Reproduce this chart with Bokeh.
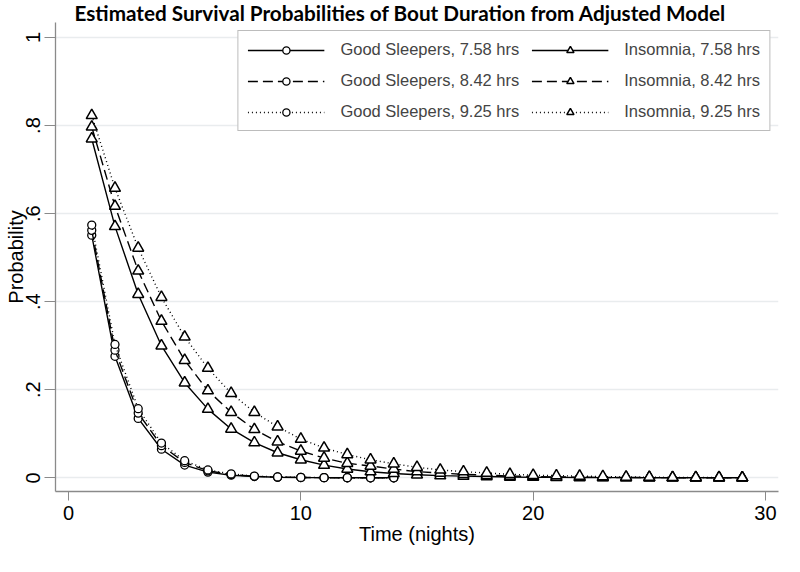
from bokeh.plotting import figure
from bokeh.models import (Range1d, FixedTicker, CustomJSTickFormatter, Legend, LegendItem, Title)
from bokeh.embed import file_html
from bokeh.resources import INLINE

# ---- data ----
time_gs = list(range(1, 15))
time_in = list(range(1, 30))

gs_758 = [0.551, 0.276, 0.135, 0.065, 0.029, 0.013, 0.006, 0.003, 0.0015, 0.0007, 0.0004, 0.0002, 0.0001, 0.0001]
gs_842 = [0.562, 0.290, 0.147, 0.073, 0.035, 0.016, 0.0075, 0.0035, 0.0017, 0.0008, 0.0004, 0.0002, 0.0001, 0.0001]
gs_925 = [0.574, 0.303, 0.157, 0.079, 0.039, 0.018, 0.009, 0.004, 0.002, 0.001, 0.0005, 0.0003, 0.0001, 0.0001]

in_758 = [0.770, 0.571, 0.417, 0.300, 0.216, 0.156, 0.111, 0.080, 0.057, 0.041, 0.029, 0.020, 0.014, 0.010,
          0.007, 0.005, 0.004, 0.003, 0.002, 0.0015, 0.001, 0.0008, 0.0006, 0.0004, 0.0003, 0.0002, 0.0002,
          0.0001, 0.0001]
in_842 = [0.797, 0.617, 0.470, 0.356, 0.267, 0.198, 0.149, 0.110, 0.082, 0.061, 0.045, 0.033, 0.027, 0.020,
          0.014, 0.011, 0.008, 0.006, 0.004, 0.003, 0.002, 0.0015, 0.001, 0.0008, 0.0006, 0.0004, 0.0003,
          0.0002, 0.0002]
in_925 = [0.823, 0.658, 0.522, 0.410, 0.320, 0.249, 0.192, 0.149, 0.116, 0.088, 0.068, 0.053, 0.041, 0.032,
          0.024, 0.018, 0.014, 0.011, 0.008, 0.006, 0.005, 0.004, 0.003, 0.002, 0.0015, 0.001, 0.0008,
          0.0006, 0.0005]

x_ticks = [0, 10, 20, 30]
y_ticks = [0, 0.2, 0.4, 0.6, 0.8, 1]

title_text = "Estimated Survival Probabilities of Bout Duration from Adjusted Model"
x_label = "Time (nights)"
y_label = "Probability"

series = [
    ("Good Sleepers, 7.58 hrs", time_gs, gs_758, "solid", "circle"),
    ("Good Sleepers, 8.42 hrs", time_gs, gs_842, "10 5", "circle"),
    ("Good Sleepers, 9.25 hrs", time_gs, gs_925, "1 3", "circle"),
    ("Insomnia, 7.58 hrs", time_in, in_758, "solid", "triangle"),
    ("Insomnia, 8.42 hrs", time_in, in_842, "10 5", "triangle"),
    ("Insomnia, 9.25 hrs", time_in, in_925, "1 3", "triangle"),
]

FONT = "Liberation Sans"

p = figure(width=792, height=564, output_backend="svg", toolbar_location=None,
           x_range=Range1d(-0.56, 30.56), y_range=Range1d(-0.031, 1.034),
           min_border_left=55, min_border_right=14, min_border_top=22, min_border_bottom=73)
p.outline_line_color = None
p.background_fill_color = "white"
p.border_fill_color = "white"

p.title = Title(text=title_text, text_font="Lato", text_font_style="bold", text_font_size="20.7px",
                align="left", offset=19, standoff=-5, text_color="black")

# axes
p.xaxis.ticker = FixedTicker(ticks=x_ticks)
p.yaxis.ticker = FixedTicker(ticks=y_ticks)
p.yaxis.formatter = CustomJSTickFormatter(code="""
if (tick == 0) return "0";
if (tick == 1) return "1";
return tick.toFixed(1).replace(/^0/, "");
""")
for ax in (p.xaxis[0], p.yaxis[0]):
    ax.axis_line_color = "#8a8a8a"
    ax.axis_line_width = 1.3
    ax.major_tick_line_color = "#8a8a8a"
    ax.major_tick_line_width = 1
    ax.minor_tick_line_color = None
    ax.major_tick_in = 0
    ax.major_label_text_font = FONT
    ax.major_label_text_font_size = "20px"
    ax.major_label_text_color = "black"
    ax.axis_label_text_font = FONT
    ax.axis_label_text_font_size = "20px"
    ax.axis_label_text_font_style = "normal"
    ax.axis_label_text_color = "black"
p.xaxis.major_tick_out = 9
p.xaxis.major_label_standoff = 5
p.xaxis.axis_label = x_label
p.xaxis.axis_label_standoff = 0
p.yaxis.major_tick_out = 11
p.yaxis.major_label_standoff = 4
p.yaxis.major_label_orientation = "vertical"
p.yaxis.axis_label = y_label
p.yaxis.axis_label_standoff = -3

p.xgrid.grid_line_color = None
p.ygrid.grid_line_color = "#e9ecee"
p.ygrid.grid_line_width = 1.5

# series
items = []
for name, t, vals, dash, marker in series:
    r_line = p.line(t, vals, line_color="black", line_width=1.4, line_dash=dash)
    if marker == "circle":
        r_mk = p.scatter(t, vals, marker="circle", size=8, line_color="black", line_width=1.3,
                         fill_color="white")
    else:
        r_mk = p.scatter(t, vals, marker="triangle", size=11, line_color="black", line_width=1.5,
                         fill_color="white")
    items.append(LegendItem(label=name, renderers=[r_line, r_mk]))

legend = Legend(items=items, location="top_right", ncols=2, orientation="vertical",
                glyph_width=77, glyph_height=18, label_height=18, label_standoff=16,
                spacing=12, padding=9, margin=8,
                label_text_font=FONT, label_text_font_size="16.5px",
                border_line_color="#7a7a7a", border_line_width=1,
                background_fill_color="white", background_fill_alpha=1)
p.add_layout(legend, "center")

open("out.html", "w").write(file_html(p, INLINE))
